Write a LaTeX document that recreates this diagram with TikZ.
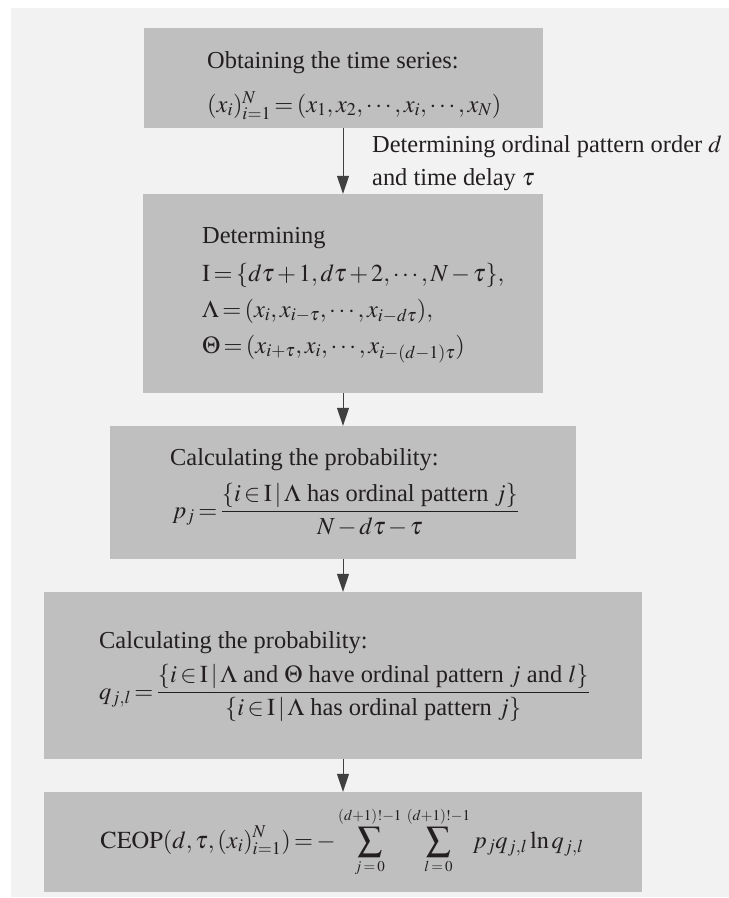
\documentclass[tikz,border=0pt]{standalone}
\usepackage{mathptmx}
\usepackage{fontspec}
\setmainfont{Liberation Serif}
\usetikzlibrary{arrows.meta}
\definecolor{bgc}{RGB}{242,242,242}
\definecolor{boxc}{RGB}{191,191,191}
\definecolor{arrc}{RGB}{64,64,64}
\definecolor{txtc}{RGB}{35,31,32}
\newcommand\myfs{\fontsize{24.4}{29}\selectfont}
\newcommand\myls{\fontsize{15}{15}\selectfont}
\newcommand\mylim[1]{\mbox{\myls$#1$}}
\thickmuskip=2.5mu plus 1mu
\medmuskip=2mu plus 1mu
\thinmuskip=2mu
\begin{document}
\begin{tikzpicture}[x=1pt,y=-1pt,
  flowbox/.style={fill=boxc, draw=none, inner sep=0pt, rectangle},
  txt/.style={anchor=base west, inner sep=0pt, font=\myfs, text=txtc},
  ctxt/.style={anchor=base, inner sep=0pt, font=\myfs, text=txtc},
  arr/.style={draw=arrc, line width=1pt, -{Triangle[length=18pt,width=12pt]}}]
\useasboundingbox (0,0) rectangle (729,898);
\fill[white] (0,0) rectangle (729,898);
\fill[bgc] (11,8) rectangle (729,897);

% boxes
\node[flowbox, minimum width=399pt, minimum height=100pt] (b1) at (343,78) {};
\node[flowbox, minimum width=400pt, minimum height=199pt] (b2) at (343,293.5) {};
\node[flowbox, minimum width=466pt, minimum height=133pt] (b3) at (343,492.5) {};
\node[flowbox, minimum width=598pt, minimum height=167pt] (b4) at (343,675.5) {};
\node[flowbox, minimum width=598pt, minimum height=100pt] (b5) at (343,842) {};

% box 1
\node[txt] (t1a) at (207,68) {Obtaining the time series:};
\node[txt] (t1b) at (207,112) {$(x_i)_{i=1}^N=(x_1,x_2,\cdots,x_i,\cdots,x_N)$};

% label of first arrow
\node[txt] (l1) at (372,152) {Determining ordinal pattern order $d$};
\node[txt] (l2) at (372,185) {and time delay $\tau$};

% box 2
\node[txt] (t2a) at (202,243) {Determining};
\node[txt] (t2b) at (202,281) {$\mathrm{I}=\{d\tau+1,d\tau+2,\cdots,N-\tau\},$};
\node[txt] (t2c) at (202,317) {$\Lambda=(x_i,x_{i-\tau},\cdots,x_{i-d\tau}),$};
\node[txt] (t2d) at (202,353) {$\Theta=(x_{i+\tau},x_i,\cdots,x_{i-(d-1)\tau})$};

% box 3
\node[txt] (t3a) at (170,465) {Calculating the probability:};
\node[txt] (t3b) at (172,518) {$\displaystyle p_j=\frac{\{i\in\mathrm{I}\,|\,\Lambda\ \mbox{has ordinal pattern}\ j\}}{N-d\tau-\tau}$};

% box 4
\node[txt] (t4a) at (99,648) {Calculating the probability:};
\node[txt] (t4b) at (99,699) {$\displaystyle q_{j,l}=\frac{\{i\in\mathrm{I}\,|\,\Lambda\ \mbox{and}\ \Theta\ \mbox{have ordinal pattern}\ j\ \mbox{and}\ l\}}{\{i\in\mathrm{I}\,|\,\Lambda\ \mbox{has ordinal pattern}\ j\}}$};

% box 5
\node[ctxt] (t5) at (342,848) {$\displaystyle \mathrm{CEOP}(d,\tau,(x_i)_{i=1}^N)=-\sum_{\mylim{j=0}}^{\mylim{(d{+}1)!{-}1}}\,\sum_{\mylim{l=0}}^{\mylim{(d{+}1)!{-}1}} p_j q_{j,l}\ln q_{j,l}$};

% arrows
\draw[arr] (b1.south) -- (b2.north);
\draw[arr] (b2.south) -- (b3.north);
\draw[arr] (b3.south) -- (b4.north);
\draw[arr] (b4.south) -- (b5.north);
\end{tikzpicture}
\end{document}
